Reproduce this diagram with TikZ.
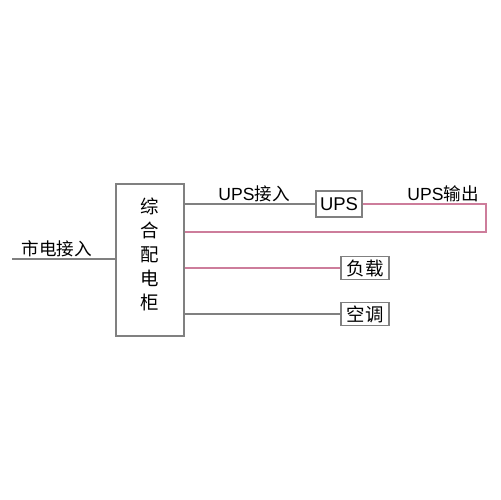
\documentclass[tikz,border=0pt]{standalone}
\usepackage{fontspec}
\setmainfont{Liberation Sans}
\newfontfamily\cjk{Noto Sans CJK SC}
\usepackage{tikz}
\usetikzlibrary{positioning}
\definecolor{linegray}{RGB}{128, 128, 128}
\definecolor{upsred}{RGB}{205, 125, 155}

\begin{document}
\begin{tikzpicture}[
    x=0.02cm, y=-0.02cm,
    cabinet/.style={draw=linegray, line width=0.6pt, minimum width=1.36cm, minimum height=3.04cm},
    cabinettext/.style={align=center, inner sep=0pt, font=\cjk\fontsize{10.5}{13.6}\selectfont},
    device/.style={draw=linegray, line width=0.6pt, minimum width=0.96cm, minimum height=0.46cm, inner sep=1pt, font=\fontsize{10.5}{12}\selectfont},
    wire/.style={draw=linegray, line width=0.6pt},
    upswire/.style={draw=upsred, line width=0.6pt},
    tag/.style={inner sep=0pt, font=\fontsize{10}{12}\selectfont}
]
\useasboundingbox (0,0) rectangle (500,500);

% Distribution cabinet
\node[cabinet] (cabinet) at (150,260) {};
\node[cabinettext] (cabinetname) at (150,254.5) {综\\合\\配\\电\\柜};

% Devices
\node[device, minimum width=0.92cm, minimum height=0.52cm] (ups) at (339,204) {UPS};
\node[device] (load) at (365,268) {\cjk 负载};
\node[device] (aircon) at (365,314) {\cjk 空调};

% Mains input
\coordinate (mains) at (12,259);
\draw[wire] (mains) -- (cabinet.west |- mains);
\node[tag] (mainslabel) at (57,249) {\cjk 市电接入};

% UPS loop
\coordinate (outtop) at (486,204);
\coordinate (outbot) at (486,232);
\draw[wire] (cabinet.east |- ups) -- (ups.west);
\draw[upswire] (ups.east) -- (outtop) -- (outbot) -- (cabinet.east |- outbot);
\node[tag] (upsin) at (254,194) {UPS{\cjk 接入}};
\node[tag] (upsout) at (443,194) {UPS{\cjk 输出}};

% Outputs
\draw[upswire] (cabinet.east |- load) -- (load.west);
\draw[wire] (cabinet.east |- aircon) -- (aircon.west);

\end{tikzpicture}
\end{document}
